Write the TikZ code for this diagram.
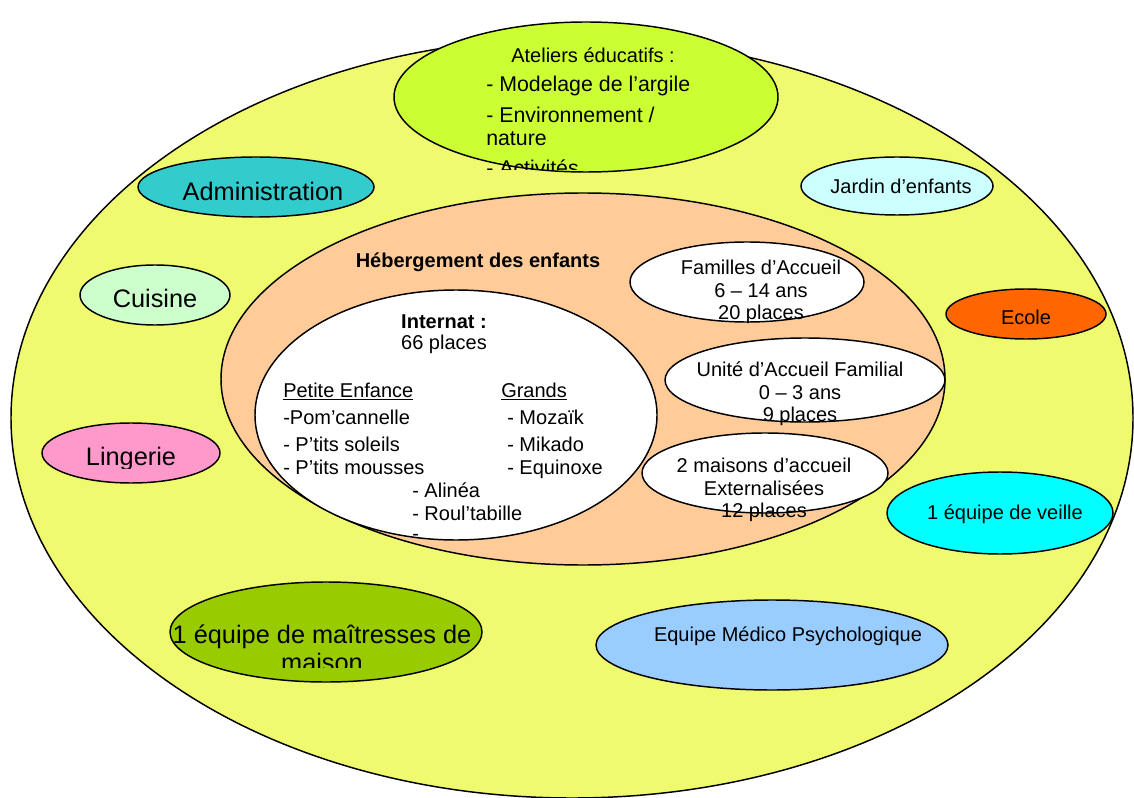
\documentclass[tikz,border=0pt]{standalone}
\usepackage{fontspec}
\setmainfont{Liberation Sans}
\usepackage{tikz}
\definecolor{fond}{RGB}{240,250,110}
\definecolor{ateliers}{RGB}{204,255,51}
\definecolor{peche}{RGB}{255,204,153}
\definecolor{admin}{RGB}{51,204,204}
\definecolor{cuisine}{RGB}{204,255,204}
\definecolor{lingerie}{RGB}{255,153,204}
\definecolor{jardin}{RGB}{204,255,255}
\definecolor{ecole}{RGB}{255,102,0}
\definecolor{veille}{RGB}{0,255,255}
\definecolor{medico}{RGB}{153,204,255}
\definecolor{maitresses}{RGB}{153,204,0}
\begin{document}
\begin{tikzpicture}[x=0.75pt,y=-0.75pt,
  bulle/.style={draw,line width=1.1pt},
  grand/.style={font=\fontsize{19}{22}\selectfont},
  moyen/.style={font=\fontsize{15}{17}\selectfont},
  liste/.style={anchor=base west,inner sep=0pt,font=\fontsize{15}{17}\selectfont}]
\useasboundingbox (0,0) rectangle (1134,798);
\clip (0,0) rectangle (1134,798);
\draw [bulle, fill=fond] (572,418) ellipse (561 and 380);
\draw [bulle, fill=ateliers] (586,97) ellipse (192 and 75);
\draw [bulle, fill=admin] (256,187) ellipse (118 and 30);
\draw [bulle, fill=cuisine] (155,295) ellipse (75 and 30);
\draw [bulle, fill=lingerie] (131,453) ellipse (89 and 30);
\draw [bulle, fill=jardin] (897,186) ellipse (96 and 29);
\draw [bulle, fill=ecole] (1026,314) ellipse (80 and 25);
\draw [bulle, fill=veille] (1000,513) ellipse (113 and 41);
\draw [bulle, fill=medico] (772,645) ellipse (176 and 45);
\draw [bulle, fill=maitresses] (326,632) ellipse (156 and 50);
\draw [bulle, fill=peche] (583,379) ellipse (362 and 186);
\draw [bulle, fill=white] (456,415) ellipse (201 and 125);
\draw [bulle, fill=white] (747,282) ellipse (117 and 40);
\draw [bulle, fill=white] (805,380) ellipse (140 and 42);
\draw [bulle, fill=white] (765,473) ellipse (123 and 40);
\begin{scope}
\clip (380,20) rectangle (800,170);
\node [moyen] (titreAteliers) at (593,55) {Ateliers éducatifs :};
\node [liste, font=\fontsize{16}{18}\selectfont] (modelage) at (486,91.5) {- Modelage de l’argile};
\node [liste, font=\fontsize{16}{18}\selectfont] (environnement) at (486,122.5) {- Environnement /};
\node [liste, font=\fontsize{16}{18}\selectfont] (nature) at (486,145.5) {nature};
\node [liste, font=\fontsize{16}{18}\selectfont] (activites) at (486,175.5) {- Activités};
\end{scope}
\node [grand] (administration) at (263,191) {Administration};
\node [grand] (cuisineTxt) at (155,298) {Cuisine};
\begin{scope}
\clip (40,420) rectangle (222,468);
\node [grand] (lingerieTxt) at (131,459) {Lingerie};
\end{scope}
\node [moyen] (jardinTxt) at (901,186) {Jardin d’enfants};
\node [moyen] (ecoleTxt) at (1026,317) {Ecole};
\node [moyen] (veilleTxt) at (1005,514) {1 équipe de veille};
\node [moyen] (medicoTxt) at (788,636) {Equipe Médico Psychologique};
\begin{scope}
\clip (160,575) rectangle (490,667);
\node [grand, align=center, font=\fontsize{19}{21}\selectfont] (maitressesTxt) at (322,648) {1 équipe de maîtresses de\\maison};
\end{scope}
\node [moyen, font=\fontsize{15}{17}\selectfont\bfseries] (hebergement) at (478,262) {Hébergement des enfants};
\node [moyen, font=\fontsize{15}{17}\selectfont\bfseries] (internat) at (444,322) {Internat :};
\node [moyen] (places) at (444,344) {66 places};
\node [liste] (petite) at (283,397) {\underline{Petite Enfance}};
\node [liste] (grands) at (501,397) {\underline{Grands}};
\node [liste] (pom) at (283,424) {-Pom’cannelle};
\node [liste] (soleils) at (283,451) {- P’tits soleils};
\node [liste] (mousses) at (283,474) {- P’tits mousses};
\node [liste] (mozaik) at (507,424) {- Mozaïk};
\node [liste] (mikado) at (507,451) {- Mikado};
\node [liste] (equinoxe) at (507,474) {- Equinoxe};
\node [liste] (alinea) at (412,497) {- Alinéa};
\node [liste] (roultabille) at (412,520) {- Roul’tabille};
\node [liste] (tiret) at (412,540) {-};
\node [moyen, align=center] (familles) at (761,292) {Familles d’Accueil\\6 – 14 ans\\20 places};
\node [moyen, align=center] (unite) at (800,394) {Unité d’Accueil Familial\\0 – 3 ans\\9 places};
\node [moyen, align=center] (maisons) at (764,490) {2 maisons d’accueil\\Externalisées\\12 places};
\end{tikzpicture}
\end{document}
